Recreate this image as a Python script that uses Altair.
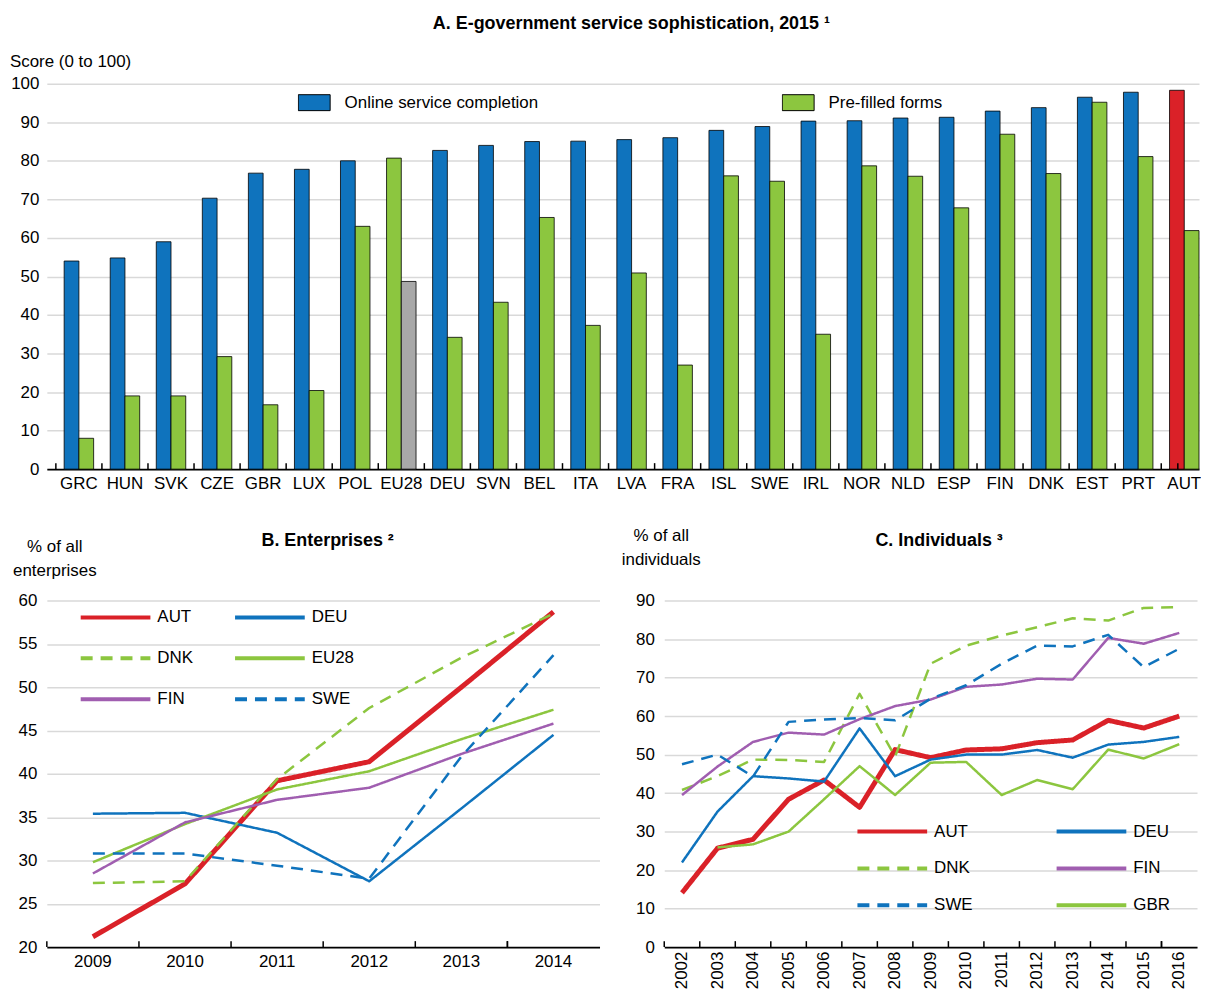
import altair as alt
import pandas as pd

FONT = "Liberation Sans, Arial, sans-serif"
FS = 17
BLUE = "#0F73BD"
GREEN = "#8CC63F"
RED = "#DA2128"
GREY = "#A8A8A8"
PURPLE = "#A05EB0"
GRID = "#D9D9D9"

# ---------------- Panel A data ----------------
countries = ["GRC", "HUN", "SVK", "CZE", "GBR", "LUX", "POL", "EU28", "DEU", "SVN", "BEL", "ITA",
             "LVA", "FRA", "ISL", "SWE", "IRL", "NOR", "NLD", "ESP", "FIN", "DNK", "EST", "PRT", "AUT"]
online = [54.0, 54.8, 59.0, 70.3, 76.8, 77.8, 80.0, 80.7, 82.7, 84.0, 85.0, 85.1,
          85.5, 86.0, 87.9, 88.9, 90.3, 90.4, 91.1, 91.3, 92.9, 93.8, 96.5, 97.8, 98.3]
prefilled = [8.0, 19.0, 19.0, 29.2, 16.7, 20.4, 63.0, 48.7, 34.2, 43.3, 65.3, 37.3,
             50.9, 27.0, 76.1, 74.7, 35.0, 78.7, 76.0, 67.8, 86.9, 76.7, 95.2, 81.1, 61.9]
S_ON = "Online service completion"
S_PF = "Pre-filled forms"

rowsA = []
for c, o, p in zip(countries, online, prefilled):
    k_on = "AUT online" if c == "AUT" else ("EU28 online" if c == "EU28" else S_ON)
    k_pf = "EU28 prefilled" if c == "EU28" else S_PF
    rowsA.append({"country": c, "series": S_ON, "value": o, "key": k_on})
    rowsA.append({"country": c, "series": S_PF, "value": p, "key": k_pf})
dfA = pd.DataFrame(rowsA)

# ---------------- Panel B data ----------------
years_b = ["2009", "2010", "2011", "2012", "2013", "2014"]
series_b = ["AUT", "DEU", "DNK", "EU28", "FIN", "SWE"]
aut_b = [21.2, 27.3, 39.2, 41.4, 50.0, 58.7]
deu_b = [35.4, 35.5, 33.2, 27.6, 36.0, 44.5]
dnk_b = [27.4, 27.6, 39.4, 47.6, 53.4, 58.5]
eu28_b = [29.8, 34.2, 38.2, 40.3, 44.0, 47.4]
fin_b = [28.5, 34.4, 37.0, 38.4, 42.3, 45.8]
swe_b = [30.8, 30.8, 29.4, 27.9, 42.0, 53.7]

# ---------------- Panel C data ----------------
years_c = [str(y) for y in range(2002, 2017)]
series_c = ["AUT", "DEU", "DNK", "FIN", "SWE", "GBR"]
aut_c = [14.1, 25.7, 28.0, 38.4, 43.4, 36.3, 51.3, 49.2, 51.2, 51.5, 53.1, 53.8, 58.9, 56.9, 60.0]
deu_c = [22.0, 35.2, 44.4, 43.8, 43.0, 56.8, 44.4, 48.7, 50.0, 50.0, 51.2, 49.2, 52.6, 53.3, 54.6]
dnk_c = [40.8, 44.4, 48.7, 48.6, 48.1, 65.8, 49.5, 73.6, 78.3, 80.9, 83.1, 85.4, 84.8, 88.1, 88.3]
fin_c = [39.5, 46.9, 53.3, 55.7, 55.2, 59.2, 62.6, 64.3, 67.6, 68.2, 69.7, 69.5, 80.3, 78.8, 81.6]
swe_c = [47.5, 50.0, 44.3, 58.5, 59.1, 59.5, 58.9, 64.5, 68.0, 73.6, 78.3, 78.1, 81.1, 72.7, 77.5]
gbr_c = [None, 25.9, 26.7, 30.0, 38.4, 47.0, 39.5, 47.9, 48.1, 39.5, 43.4, 41.0, 51.3, 49.0, 52.7]


def long_df(years, names, arrays):
    rows = []
    for n, arr in zip(names, arrays):
        for y, v in zip(years, arr):
            if v is not None:
                rows.append({"year": y, "series": n, "value": v})
    return pd.DataFrame(rows)


dfB = long_df(years_b, series_b, [aut_b, deu_b, dnk_b, eu28_b, fin_b, swe_b])
dfC = long_df(years_c, series_c, [aut_c, deu_c, dnk_c, fin_c, swe_c, gbr_c])


def text_layer(txt, x, y, bold=False, align="center", size=FS, line_height=24):
    return alt.Chart(pd.DataFrame({"t": [txt]})).mark_text(
        align=align, baseline="middle", font=FONT, fontSize=size, color="black",
        fontWeight="bold" if bold else "normal", lineHeight=line_height
    ).encode(text="t:N", x=alt.value(x), y=alt.value(y))


def boundary_ticks(field, cats, scale, H, gap_px):
    """Small upward ticks at the category boundaries, placed through the band scale."""
    first = alt.Chart(pd.DataFrame({field: cats})).mark_rule(color="black", strokeWidth=1.5).encode(
        x=alt.X(f"{field}:N", sort=cats, scale=scale, bandPosition=0),
        xOffset=alt.value(-gap_px),
        y=alt.value(H - 6), y2=alt.value(H),
    )
    last = alt.Chart(pd.DataFrame({field: cats[-1:]})).mark_rule(color="black", strokeWidth=1.5).encode(
        x=alt.X(f"{field}:N", sort=cats, scale=scale, bandPosition=1),
        xOffset=alt.value(gap_px),
        y=alt.value(H - 6), y2=alt.value(H),
    )
    return [first, last]


# ---------------- Panel A chart ----------------
WA, HA = 1157, 387
PI_A, PO_A = 0.36, 0.188
xA_scale = alt.Scale(paddingInner=PI_A, paddingOuter=PO_A, align=1)
STEP_A = WA / (len(countries) - PI_A + 2 * PO_A)
yA_axis = alt.Axis(title=None, values=list(range(0, 101, 10)), labelFont=FONT, labelFontSize=FS,
                   labelColor="black", labelPadding=8, domain=False, ticks=False,
                   gridColor=GRID, gridWidth=1.5)
rect_path = "M-1,-0.5H1V0.5H-1Z"

bars = alt.Chart(dfA).mark_bar(stroke="black", strokeWidth=0.8).encode(
    x=alt.X("country:N", sort=countries, scale=xA_scale,
            axis=alt.Axis(orient="bottom", title=None, labelAngle=0, labelFont=FONT,
                          labelFontSize=FS, labelColor="black", labelPadding=6, ticks=False,
                          domainColor="black", domainWidth=2, grid=False)),
    xOffset=alt.XOffset("series:N", sort=[S_ON, S_PF]),
    y=alt.Y("value:Q", scale=alt.Scale(domain=[0, 100]), axis=yA_axis),
    color=alt.Color("key:N",
                    scale=alt.Scale(domain=[S_ON, S_PF, "EU28 online", "EU28 prefilled", "AUT online"],
                                    range=[BLUE, GREEN, GREEN, GREY, RED]),
                    legend=alt.Legend(title=None, values=[S_ON, S_PF], orient="none",
                                      legendX=252, legendY=9, direction="horizontal",
                                      columnPadding=244, symbolType=rect_path, symbolSize=1024,
                                      symbolStrokeColor="black", symbolStrokeWidth=1,
                                      symbolOpacity=1, clipHeight=20, labelLimit=400,
                                      labelFont=FONT, labelFontSize=FS, labelColor="black",
                                      labelOffset=14)),
)

panelA = alt.layer(
    bars,
    *boundary_ticks("country", countries, xA_scale, HA, 0.5 * PI_A * STEP_A),
    text_layer("Score (0 to 100)", -37, -22, align="left"),
    text_layer("A. E-government service sophistication, 2015 ¹", 587, -60, bold=True, size=18),
).properties(width=WA, height=HA)


# ---------------- Line panels ----------------
def line_panel(df, years, legend_order, colors, dashes, W, H, ydom, ystep, ytitle, ytitle_xy,
               title, title_x, legend_xy, col_pad, row_pad, rotate):
    lg = alt.Legend(title=None, orient="none", legendX=legend_xy[0], legendY=legend_xy[1],
                    columns=2, columnPadding=col_pad, rowPadding=row_pad, symbolType="stroke",
                    symbolSize=4900, symbolStrokeWidth=4, clipHeight=20, labelFont=FONT,
                    labelFontSize=FS, labelColor="black", labelOffset=5, symbolOpacity=1)
    xscale = alt.Scale(type="band", paddingInner=0, paddingOuter=0)
    xaxis = alt.Axis(orient="bottom", title=None, labelAngle=270 if rotate else 0, labelFont=FONT,
                     labelFontSize=FS, labelColor="black", labelPadding=6 if not rotate else 4,
                     ticks=False, domainColor="black", domainWidth=2, grid=False)
    yaxis = alt.Axis(title=None, values=list(range(ydom[0], ydom[1] + 1, ystep)), labelFont=FONT,
                     labelFontSize=FS, labelColor="black", labelPadding=10, domain=False,
                     ticks=False, gridColor=GRID, gridWidth=1.5)
    lines = alt.Chart(df).mark_line(strokeCap="butt", strokeJoin="round").encode(
        x=alt.X("year:O", sort=years, scale=xscale, axis=xaxis),
        y=alt.Y("value:Q", scale=alt.Scale(domain=list(ydom)), axis=yaxis),
        color=alt.Color("series:N", scale=alt.Scale(domain=legend_order, range=colors), legend=lg),
        strokeDash=alt.StrokeDash("series:N", scale=alt.Scale(domain=legend_order, range=dashes),
                                  legend=lg),
        strokeWidth=alt.condition(alt.datum.series == "AUT", alt.value(5), alt.value(2.5)),
        order=alt.Order("series:N"),
    )
    return alt.layer(
        lines,
        *boundary_ticks("year", years, xscale, H, 0),
        text_layer(ytitle, ytitle_xy[0], ytitle_xy[1]),
        text_layer(title, title_x, -60, bold=True, size=18),
    ).properties(width=W, height=H)


DASH = [12, 8]
SOLID = [1, 0]
# legend fills column by column, so the domains are ordered to read row by row
panelB = line_panel(dfB, years_b, ["AUT", "DNK", "FIN", "DEU", "EU28", "SWE"],
                    [RED, GREEN, PURPLE, BLUE, GREEN, BLUE],
                    [SOLID, DASH, SOLID, SOLID, SOLID, DASH],
                    555, 348, (20, 60), 5, ["% of all", "enterprises"], (8, -54),
                    "B. Enterprises ²", 282, (32, 7), 40, 21, False)
panelC = line_panel(dfC, years_c, ["AUT", "DNK", "SWE", "DEU", "FIN", "GBR"],
                    [RED, GREEN, BLUE, BLUE, PURPLE, GREEN],
                    [SOLID, DASH, DASH, SOLID, SOLID, SOLID],
                    535, 348, (0, 90), 10, ["% of all", "individuals"], (-3, -65),
                    "C. Individuals   ³", 276, (192, 222), 82, 17, True)

bottom = alt.hconcat(panelB, panelC, spacing=22).resolve_scale(
    color="independent", strokeDash="independent")

chart = alt.vconcat(panelA, bottom, spacing=36).properties(
    padding={"left": 2, "top": 5, "right": 0, "bottom": 0}
).configure(font=FONT).configure_view(stroke=None)

chart.save("out.html", embed_options={"renderer": "svg", "actions": False})
